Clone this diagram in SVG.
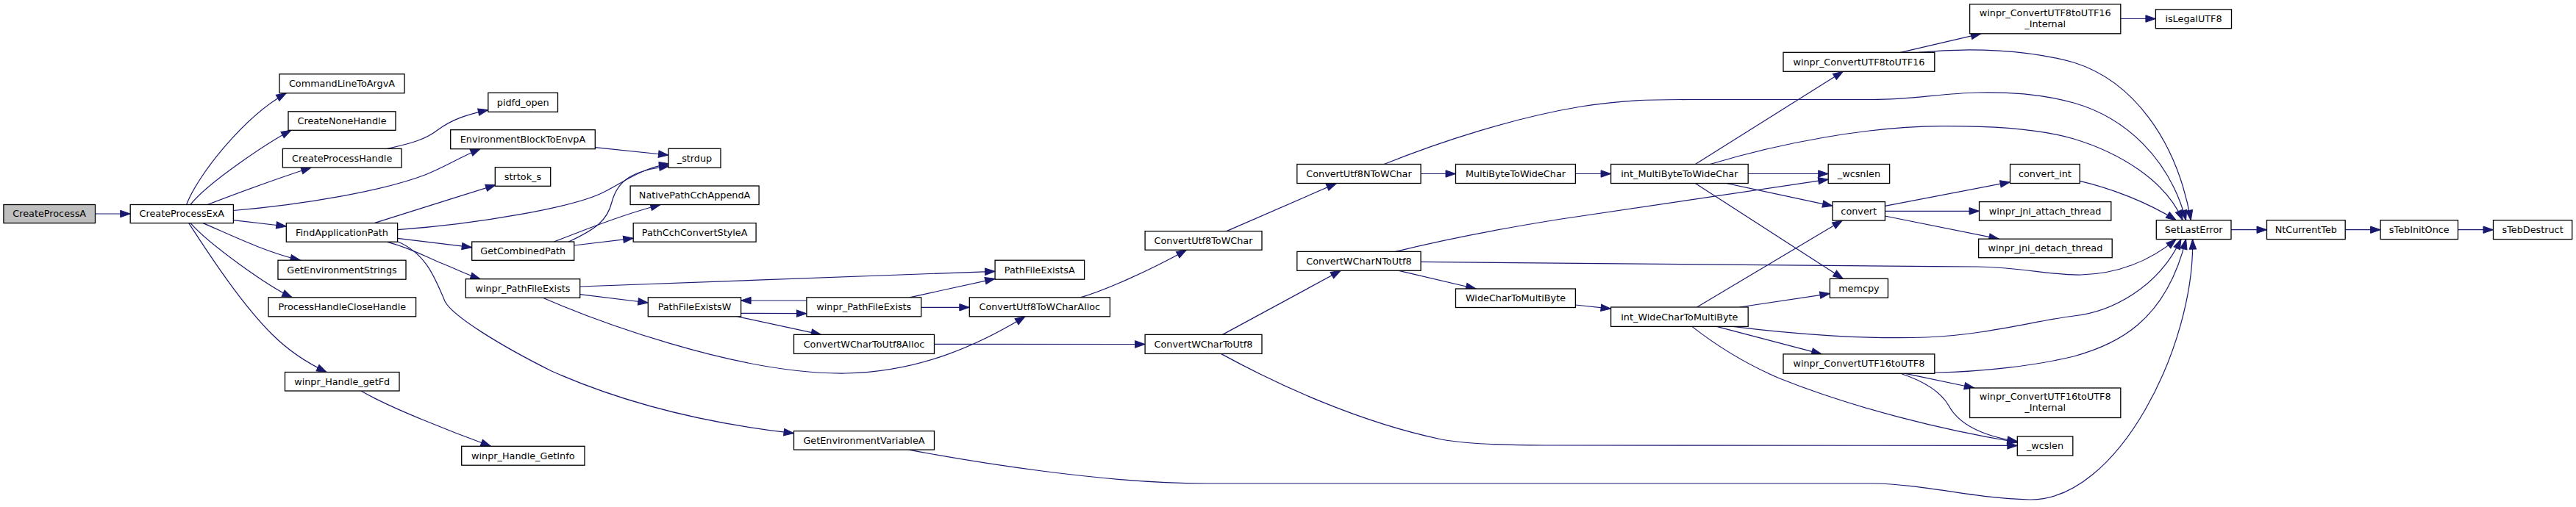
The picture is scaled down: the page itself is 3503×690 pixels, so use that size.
<svg xmlns="http://www.w3.org/2000/svg" width="3503" height="690" viewBox="0 0 3503 690">
<style>
.node rect{fill:#ffffff;stroke:#000000;stroke-width:1.3}
.node.root rect{fill:#bfbfbf}
.node text{font-family:"DejaVu Sans","Noto Sans",sans-serif;font-size:12.8px;fill:#000000;text-anchor:middle}
.e{fill:none;stroke:#191970;stroke-width:1.2;marker-end:url(#ah)}
</style>
<defs>
<marker id="ah" markerUnits="userSpaceOnUse" viewBox="0 0 14 10" markerWidth="14" markerHeight="10" refX="13.5" refY="5" orient="auto" overflow="visible">
<path d="M0,0.3 L13.5,5 L0,9.7 z" fill="#191970" stroke="#191970" stroke-width="1"/>
</marker>
</defs>
<rect width="3503" height="690" fill="#ffffff"/>
<g id="connectors">
<path class="e" d="M129.5,291 L177.2,291"/>
<path class="e" d="M253.6,278.5 C268,240 330,160 389.3,126.7"/>
<path class="e" d="M258.9,278.5 C285,246 368,192 396,177.3"/>
<path class="e" d="M282.1,278.5 C320,264 380,242 423.2,228"/>
<path class="e" d="M317.4,286.5 C410,279 520,260 578,238 C603,228 620,217 653.3,202.3"/>
<path class="e" d="M317.4,299.7 L389.3,308"/>
<path class="e" d="M276,303.6 C310,318 360,343 408.5,354.2"/>
<path class="e" d="M259,303.6 C285,333 365,390 397.3,404.8"/>
<path class="e" d="M256.7,303.6 C290,355 330,415 370,455 C395,480 420,495 444.2,506.5"/>
<path class="e" d="M526.8,202.4 C560,195 578,190 595,177 C615,162 635,156 663.8,149.6"/>
<path class="e" d="M809.3,200.7 L909,211"/>
<path class="e" d="M508.9,303.6 C560,287 620,269 674,251.7"/>
<path class="e" d="M540.6,312.7 C650,305 780,282 820,262 C850,247 870,230 910,222.7"/>
<path class="e" d="M773.3,329 C810,312 826,300 832,275 C840,245 860,232 910,226"/>
<path class="e" d="M753.3,329 C790,315 840,294 898.3,278.5"/>
<path class="e" d="M780.7,334 L861.2,324.3"/>
<path class="e" d="M540.6,324.3 L641.7,336.7"/>
<path class="e" d="M526.7,329.3 C560,338 580,350 600,358 C620,366 635,374 653.3,379.7"/>
<path class="e" d="M540.6,328.7 C580,345 592,380 605,410 C615,430 680,470 750,505 C840,545 950,575 1079.5,589.7"/>
<path class="e" d="M491,532 C530,555 620,590 667.4,607.3"/>
<path class="e" d="M788.7,390 L1353.1,369.3"/>
<path class="e" d="M788.7,400.7 L881.3,412"/>
<path class="e" d="M738.3,405.3 C800,432 1000,510 1150,508 C1250,506 1330,470 1394,430.8"/>
<path class="e" d="M1007.6,426.3 L1096.9,426.7"/>
<path class="e" d="M1096.9,409 L1007.6,409"/>
<path class="e" d="M1003,430.8 L1116.7,455.4"/>
<path class="e" d="M1236.7,404.8 L1353.1,379.3"/>
<path class="e" d="M1252.7,418.3 L1318.3,418.3"/>
<path class="e" d="M1270.5,468.3 L1557.1,468.5"/>
<path class="e" d="M1469.2,404.8 C1500,396 1560,370 1613.4,340.2"/>
<path class="e" d="M1667.9,314.6 L1817.4,249.5"/>
<path class="e" d="M1932.1,236.5 L1979.5,236.5"/>
<path class="e" d="M1882.1,223.5 C1960,192 2060,160 2150,145 C2210,136 2240,135.5 2300,135.5 L2546,135.5 C2600,135.5 2640,127 2690,126 C2740,125 2785,130 2820,140 C2890,160 2950,215 2972.6,299.7"/>
<path class="e" d="M1662.5,455.4 L1823.2,368.3"/>
<path class="e" d="M1660.3,481.4 C1740,525 1850,575 1960,598 C2000,605 2050,606 2100,606 L2743.3,606.4"/>
<path class="e" d="M1897.8,342.4 C1960,327 2030,313 2120,298.5 L2486.2,244.2"/>
<path class="e" d="M1932.1,356.4 C2100,358 2400,361 2690,363 C2750,364 2790,375 2830,374 C2890,372 2930,350 2959.2,325.6"/>
<path class="e" d="M1902.2,368.3 L2007.1,393"/>
<path class="e" d="M2142.4,236.5 L2190.6,236.5"/>
<path class="e" d="M2142.4,415 L2190.6,420.2"/>
<path class="e" d="M2305.4,223.5 L2506.3,97.3"/>
<path class="e" d="M2325.4,223.5 C2420,195 2540,172 2640,171.6 C2740,171 2790,180 2820,189 C2880,207 2945,245 2968.1,299.7"/>
<path class="e" d="M2377.2,236.5 L2486.2,236.5"/>
<path class="e" d="M2347.8,249.5 L2492,280.3"/>
<path class="e" d="M2305.4,249.5 L2506.3,379.3"/>
<path class="e" d="M2307.6,418 L2505.4,300.1"/>
<path class="e" d="M2365.6,418 L2488.4,399.6"/>
<path class="e" d="M2356.7,444.4 C2440,455 2540,462 2620,459 C2700,456 2770,436 2820,430 C2870,425 2935,392 2965.9,325.6"/>
<path class="e" d="M2334.4,444.4 L2477.2,481.9"/>
<path class="e" d="M2300.9,444.4 C2340,475 2380,498 2420,515 C2520,555 2640,585 2743.3,602"/>
<path class="e" d="M2584.4,71.3 L2693.8,45.8"/>
<path class="e" d="M2608.9,71.3 C2680,64 2760,68 2820,85 C2900,110 2960,190 2979.3,299.7"/>
<path class="e" d="M2883.8,25.5 L2931.4,25.5"/>
<path class="e" d="M2563.4,280.3 L2733.5,247.7"/>
<path class="e" d="M2563.4,287.3 L2691.5,287.3"/>
<path class="e" d="M2563.4,294 L2718.3,325.2"/>
<path class="e" d="M2828.2,246.4 C2870,256 2920,275 2959.2,299.7"/>
<path class="e" d="M2591,508.3 L2684.8,528"/>
<path class="e" d="M2584.4,508.3 C2620,520 2640,535 2650,552 C2665,580 2700,594 2743.3,600.7"/>
<path class="e" d="M2630.8,507 C2700,506 2770,497 2820,485 C2875,470 2945,440 2972.6,325.6"/>
<path class="e" d="M1235.7,612.1 C1320,628 1500,658 1640,658 L2546,658 C2620,659 2680,678 2760,680 C2880,682 2985,470 2981.6,325.6"/>
<path class="e" d="M3034,312.7 L3082.5,312.7"/>
<path class="e" d="M3189.2,312.7 L3237.1,312.7"/>
<path class="e" d="M3342.5,312.7 L3390.5,312.7"/>
</g>
<g id="node_CreateProcessA" class="node root"><rect x="4.9" y="278.5" width="124.6" height="25.1"/><text x="67.2" y="295.4">CreateProcessA</text></g>
<g id="node_CreateProcessExA" class="node"><rect x="177.2" y="278.5" width="140.2" height="25.1"/><text x="247.3" y="295.4">CreateProcessExA</text></g>
<g id="node_CommandLineToArgvA" class="node"><rect x="380" y="100.8" width="170" height="25.9"/><text x="465" y="118.1">CommandLineToArgvA</text></g>
<g id="node_CreateNoneHandle" class="node"><rect x="392" y="151.8" width="146" height="25.5"/><text x="465" y="168.9">CreateNoneHandle</text></g>
<g id="node_CreateProcessHandle" class="node"><rect x="384.4" y="202.4" width="161.6" height="25.6"/><text x="465.2" y="219.5">CreateProcessHandle</text></g>
<g id="node_EnvironmentBlockToEnvpA" class="node"><rect x="612.7" y="176.7" width="196.6" height="26"/><text x="711" y="194">EnvironmentBlockToEnvpA</text></g>
<g id="node_pidfd_open" class="node"><rect x="663.8" y="126.3" width="94.7" height="26"/><text x="711.2" y="143.6">pidfd_open</text></g>
<g id="node_strtok_s" class="node"><rect x="673.3" y="227.7" width="75.4" height="25.6"/><text x="711" y="244.8">strtok_s</text></g>
<g id="node_FindApplicationPath" class="node"><rect x="389.3" y="303.6" width="151.3" height="25.6"/><text x="465" y="320.7">FindApplicationPath</text></g>
<g id="node_GetCombinedPath" class="node"><rect x="641.7" y="329" width="139" height="25.3"/><text x="711.2" y="346">GetCombinedPath</text></g>
<g id="node_winpr_PathFileExists_1" class="node"><rect x="633.3" y="379.7" width="155.4" height="25.6"/><text x="711" y="396.8">winpr_PathFileExists</text></g>
<g id="node_GetEnvironmentStrings" class="node"><rect x="378" y="354.2" width="174" height="26"/><text x="465" y="371.5">GetEnvironmentStrings</text></g>
<g id="node_ProcessHandleCloseHandle" class="node"><rect x="365" y="404.8" width="200.6" height="26"/><text x="465.3" y="422.1">ProcessHandleCloseHandle</text></g>
<g id="node_winpr_Handle_getFd" class="node"><rect x="387.5" y="506.5" width="155.5" height="25.5"/><text x="465.2" y="523.6">winpr_Handle_getFd</text></g>
<g id="node_winpr_Handle_GetInfo" class="node"><rect x="627.7" y="607.3" width="167.3" height="25.9"/><text x="711.3" y="624.6">winpr_Handle_GetInfo</text></g>
<g id="node__strdup" class="node"><rect x="909" y="202.3" width="71" height="26"/><text x="944.5" y="219.6">_strdup</text></g>
<g id="node_NativePathCchAppendA" class="node"><rect x="857.1" y="253" width="175" height="25.5"/><text x="944.6" y="270.1">NativePathCchAppendA</text></g>
<g id="node_PathCchConvertStyleA" class="node"><rect x="861.2" y="303.6" width="166.9" height="25.6"/><text x="944.6" y="320.7">PathCchConvertStyleA</text></g>
<g id="node_PathFileExistsA" class="node"><rect x="1353.1" y="354.2" width="121.5" height="26"/><text x="1413.8" y="371.5">PathFileExistsA</text></g>
<g id="node_PathFileExistsW" class="node"><rect x="881.3" y="404.8" width="126.3" height="26"/><text x="944.5" y="422.1">PathFileExistsW</text></g>
<g id="node_winpr_PathFileExists_2" class="node"><rect x="1096.9" y="404.8" width="155.8" height="26"/><text x="1174.8" y="422.1">winpr_PathFileExists</text></g>
<g id="node_ConvertUtf8ToWCharAlloc" class="node"><rect x="1318.3" y="404.8" width="191.1" height="26"/><text x="1413.8" y="422.1">ConvertUtf8ToWCharAlloc</text></g>
<g id="node_ConvertWCharToUtf8Alloc" class="node"><rect x="1079.5" y="455.4" width="191" height="26"/><text x="1175" y="472.7">ConvertWCharToUtf8Alloc</text></g>
<g id="node_GetEnvironmentVariableA" class="node"><rect x="1079.5" y="586.6" width="191" height="25.5"/><text x="1175" y="603.7">GetEnvironmentVariableA</text></g>
<g id="node_ConvertUtf8ToWChar" class="node"><rect x="1557.1" y="314.6" width="158.9" height="25.6"/><text x="1636.5" y="331.7">ConvertUtf8ToWChar</text></g>
<g id="node_ConvertUtf8NToWChar" class="node"><rect x="1763.8" y="223.5" width="168.3" height="26"/><text x="1848" y="240.8">ConvertUtf8NToWChar</text></g>
<g id="node_MultiByteToWideChar" class="node"><rect x="1979.5" y="223.5" width="162.9" height="26"/><text x="2061" y="240.8">MultiByteToWideChar</text></g>
<g id="node_ConvertWCharNToUtf8" class="node"><rect x="1763.8" y="342.4" width="168.3" height="25.9"/><text x="1848" y="359.7">ConvertWCharNToUtf8</text></g>
<g id="node_WideCharToMultiByte" class="node"><rect x="1979.5" y="393" width="162.9" height="25.5"/><text x="2061" y="410.1">WideCharToMultiByte</text></g>
<g id="node_ConvertWCharToUtf8" class="node"><rect x="1557.1" y="455.4" width="158.9" height="26"/><text x="1636.5" y="472.7">ConvertWCharToUtf8</text></g>
<g id="node_int_MultiByteToWideChar" class="node"><rect x="2190.6" y="223.5" width="186.6" height="26"/><text x="2283.9" y="240.8">int_MultiByteToWideChar</text></g>
<g id="node_int_WideCharToMultiByte" class="node"><rect x="2190.6" y="418" width="186.6" height="26.4"/><text x="2283.9" y="435.5">int_WideCharToMultiByte</text></g>
<g id="node_winpr_ConvertUTF8toUTF16" class="node"><rect x="2425" y="71.3" width="205.8" height="26"/><text x="2527.9" y="88.6">winpr_ConvertUTF8toUTF16</text></g>
<g id="node_winpr_ConvertUTF8toUTF16_Internal" class="node"><rect x="2678.6" y="5.7" width="205.2" height="40.1"/><text x="2781.2" y="22">winpr_ConvertUTF8toUTF16</text><text x="2781.2" y="36.8">_Internal</text></g>
<g id="node__wcsnlen" class="node"><rect x="2486.2" y="223.5" width="83.4" height="26"/><text x="2527.9" y="240.8">_wcsnlen</text></g>
<g id="node_convert" class="node"><rect x="2492" y="274.6" width="71.4" height="25.5"/><text x="2527.7" y="291.7">convert</text></g>
<g id="node_memcpy" class="node"><rect x="2488.4" y="379.3" width="79" height="26"/><text x="2527.9" y="396.6">memcpy</text></g>
<g id="node_convert_int" class="node"><rect x="2733.5" y="223.5" width="94.7" height="26"/><text x="2780.9" y="240.8">convert_int</text></g>
<g id="node_winpr_jni_attach_thread" class="node"><rect x="2691.5" y="274.6" width="179.3" height="25.5"/><text x="2781.1" y="291.7">winpr_jni_attach_thread</text></g>
<g id="node_winpr_jni_detach_thread" class="node"><rect x="2690.6" y="325.2" width="181.6" height="25.5"/><text x="2781.4" y="342.3">winpr_jni_detach_thread</text></g>
<g id="node_winpr_ConvertUTF16toUTF8" class="node"><rect x="2425" y="481.9" width="205.8" height="26.4"/><text x="2527.9" y="499.4">winpr_ConvertUTF16toUTF8</text></g>
<g id="node_winpr_ConvertUTF16toUTF8_Internal" class="node"><rect x="2678.6" y="528" width="205.2" height="40.5"/><text x="2781.2" y="544.3">winpr_ConvertUTF16toUTF8</text><text x="2781.2" y="559.1">_Internal</text></g>
<g id="node__wcslen" class="node"><rect x="2743.3" y="594" width="75.5" height="26"/><text x="2781" y="611.3">_wcslen</text></g>
<g id="node_isLegalUTF8" class="node"><rect x="2931.4" y="12.8" width="103.1" height="25.9"/><text x="2983" y="30.1">isLegalUTF8</text></g>
<g id="node_SetLastError" class="node"><rect x="2932.3" y="299.7" width="101.7" height="25.9"/><text x="2983.1" y="317">SetLastError</text></g>
<g id="node_NtCurrentTeb" class="node"><rect x="3082.5" y="299.7" width="106.7" height="25.9"/><text x="3135.8" y="317">NtCurrentTeb</text></g>
<g id="node_sTebInitOnce" class="node"><rect x="3237.1" y="299.7" width="105.4" height="25.9"/><text x="3289.8" y="317">sTebInitOnce</text></g>
<g id="node_sTebDestruct" class="node"><rect x="3390.5" y="299.7" width="107.2" height="25.9"/><text x="3444.1" y="317">sTebDestruct</text></g>
</svg>
